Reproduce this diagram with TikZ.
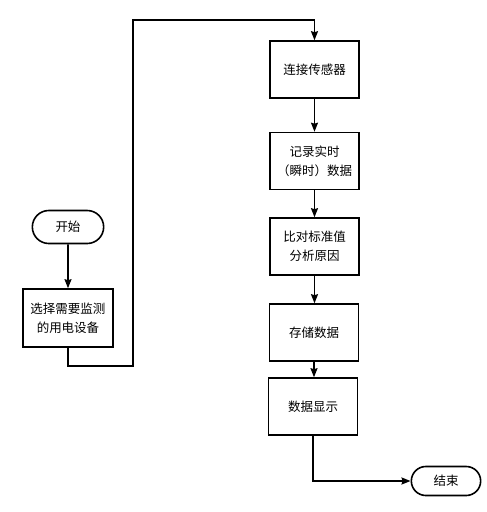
\documentclass[tikz,border=0pt]{standalone}
\usepackage{fontspec}
\newfontfamily\cjk{Noto Sans CJK SC}
\usepackage{tikz}
\usetikzlibrary{positioning}
\usetikzlibrary{shapes.geometric, shapes.misc, arrows, arrows.meta}
\tikzstyle{arrow} = [line width=1.6pt,->,>={Stealth[length=9pt,width=7pt,inset=1pt]}]
\tikzstyle{box} = [draw,line width=1.6pt,minimum width=89pt,minimum height=57pt,align=center,font=\cjk\fontsize{12.5}{19}\selectfont]
\tikzstyle{term} = [draw,line width=1.6pt,rounded rectangle,align=center,font=\cjk\fontsize{12.5}{19}\selectfont]

\begin{document}
\begin{tikzpicture}[x=1pt,y=-1pt]
	\useasboundingbox (0,0) rectangle (487,512);
	
	%Nodes
	\node [term,minimum width=78pt,minimum height=33pt] (start) at (68,227) {开始};
	\node [box,minimum width=90pt,minimum height=58pt] (select) at (68,318) {选择需要监测\\的用电设备};
	\node [box] (sensor) at (314.5,69.5) {连接传感器};
	\node [box] (record) at (314.5,161) {记录实时\\（瞬时）数据};
	\node [box] (compare) at (314.5,246.5) {比对标准值\\分析原因};
	\node [box] (store) at (314,332.5) {存储数据};
	\node [box] (show) at (313,406.5) {数据显示};
	\node [term,minimum width=76pt,minimum height=29pt] (stop) at (446,481) {结束};
	\coordinate (loopL) at (133,366);
	\coordinate (loopT) at (133,20);
	
	%Lines
	\draw[arrow] (start) -- (select);
	\draw[arrow] (select.south) |- (loopL) -- (loopT) -| (sensor.north);
	\draw[arrow] (sensor.south) -- (sensor.south |- record.north);
	\draw[arrow] (record.south) -- (record.south |- compare.north);
	\draw[arrow] (compare.south) -- (compare.south |- store.north);
	\draw[arrow] (store.south) -- (store.south |- show.north);
	\draw[arrow] (show.south) |- (stop.west);
	
\end{tikzpicture}
\end{document}
